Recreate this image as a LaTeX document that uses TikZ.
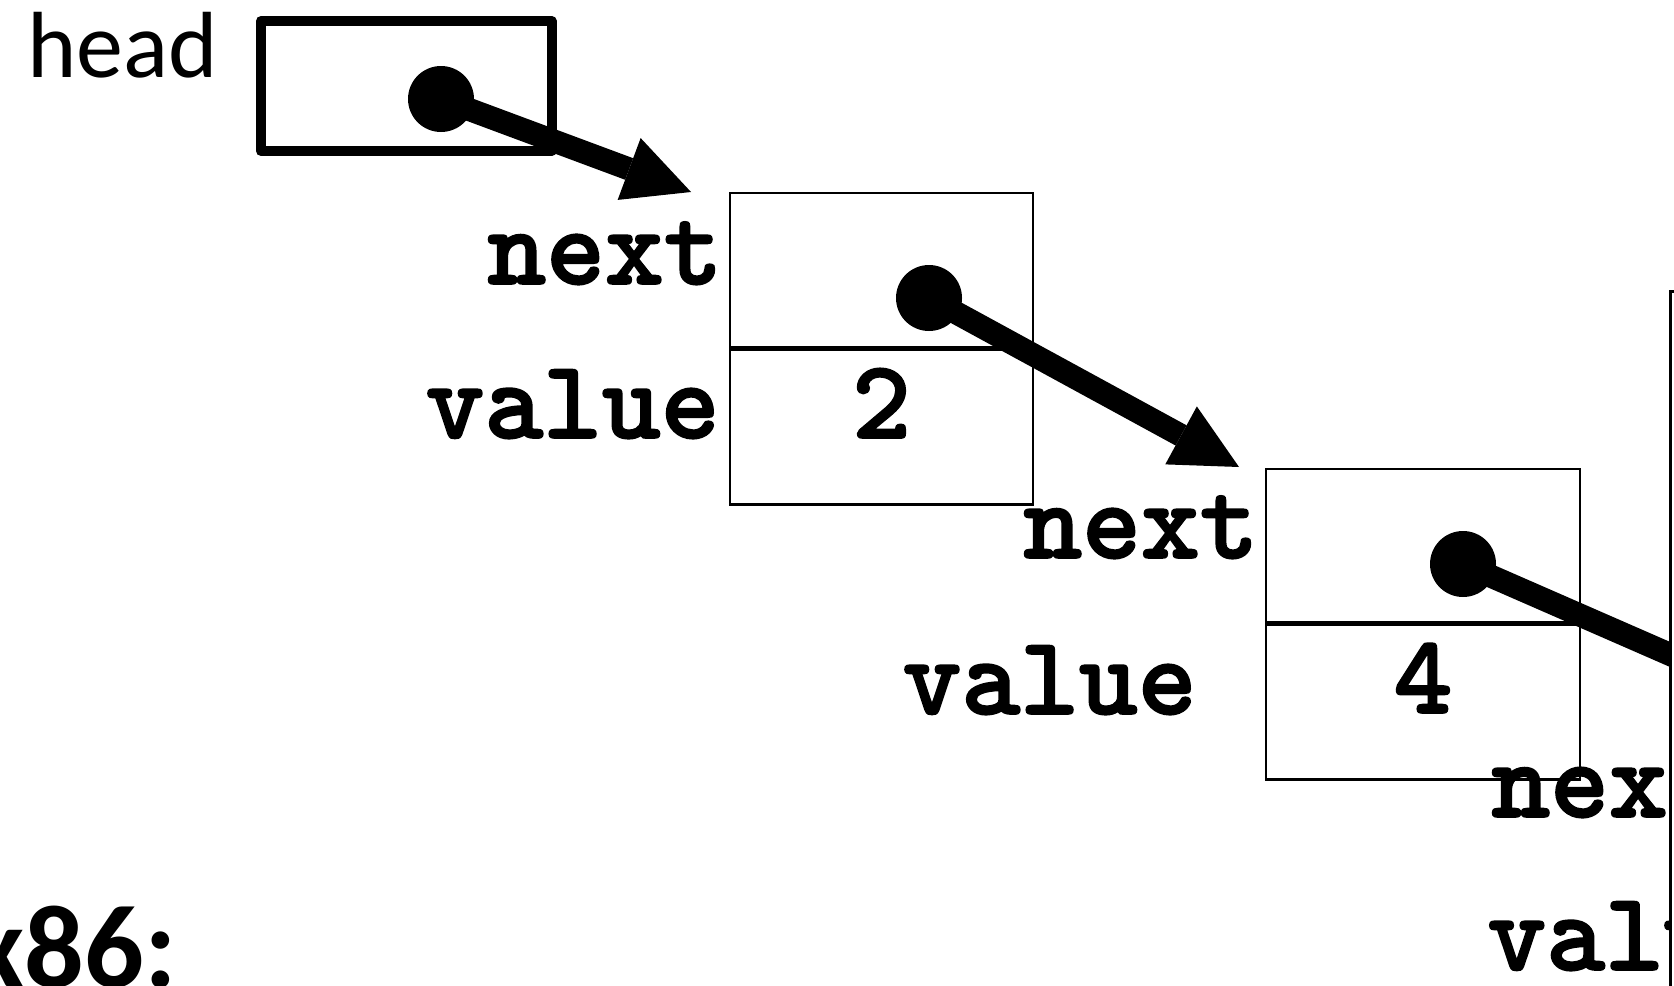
\documentclass[tikz,border=0pt]{standalone}
\usepackage{fontspec}
\usetikzlibrary{arrows.meta}
\newfontfamily\slidefont{Carlito}
\newfontfamily\codefont{lmmonolt10-bold}[Extension=.otf, FakeBold=1.6]

\begin{document}
\begin{tikzpicture}[x=0.5pt, y=-0.5pt,
    cell/.style={draw, line width=1.25pt, fill=white, inner sep=0pt},
    field/.style={font=\codefont\fontsize{56pt}{56pt}\selectfont, inner sep=0pt},
    ptr/.style={circle, fill, inner sep=0pt, minimum size=33pt},
    link/.style={line width=11.5pt, -{Triangle[length=33pt, width=33pt, line width=0pt]}}]
    \clip (0, 0) rectangle (1674, 985);
        % head pointer
        \node [anchor=base west, inner sep=0pt, font=\slidefont\fontsize{47pt}{47pt}\selectfont] (headlbl) at (27, 77) {head};
        \node [draw, line width=5pt, line join=round, minimum width=145.25pt, minimum height=65pt] (headbox) at (406.25, 86) {};
        % first element
        \node [cell, minimum width=151.5pt, minimum height=77pt] (n1next) at (881.5, 270) {};
        \node [cell, anchor=north, minimum width=151.5pt, minimum height=77.5pt] (n1val) at (n1next.south) {};
        \node [field, anchor=base east] (n1nextlbl) at (723, 284) {next};
        \node [field, anchor=base east] (n1vallbl) at (720, 438) {value};
        \node [field, anchor=base] (n1num) at (881.5, 438) {2};
        % second element
        \node [cell, minimum width=157pt, minimum height=76.5pt] (n2next) at (1423, 545.5) {};
        \node [cell, anchor=north, minimum width=157pt, minimum height=77.5pt] (n2val) at (n2next.south) {};
        \node [field, anchor=base east] (n2nextlbl) at (1259, 558) {next};
        \node [field, anchor=base east] (n2vallbl) at (1197, 714) {value};
        \node [field, anchor=base] (n2num) at (1423, 713) {4};
        % links
        \node [ptr] (headptr) at (441, 99) {};
        \node [ptr] (n1ptr) at (929, 298) {};
        \node [ptr] (n2ptr) at (1463, 564) {};
        \coordinate (n1in) at (691, 192);
        \coordinate (n2in) at (1239, 467);
        \coordinate (n3in) at (1875, 744);
        \draw [link] (headptr.center) -- (n1in);
        \draw [link] (n1ptr.center) -- (n2in);
        \draw [link] (n2ptr.center) -- (n3in);
        % third element, mostly off the page
        \node [field, anchor=base west] (n3nextlbl) at (1491, 817) {next};
        \node [field, anchor=base west] (n3vallbl) at (1487, 970) {value};
        \node [cell, anchor=north west, minimum width=160pt, minimum height=400pt] (n3next) at (1669, 290) {};
        \node [anchor=base west, inner sep=0pt, font=\slidefont\bfseries\fontsize{59pt}{59pt}\selectfont] (arch) at (-30, 987) {x86:};
    \end{tikzpicture}
\end{document}
